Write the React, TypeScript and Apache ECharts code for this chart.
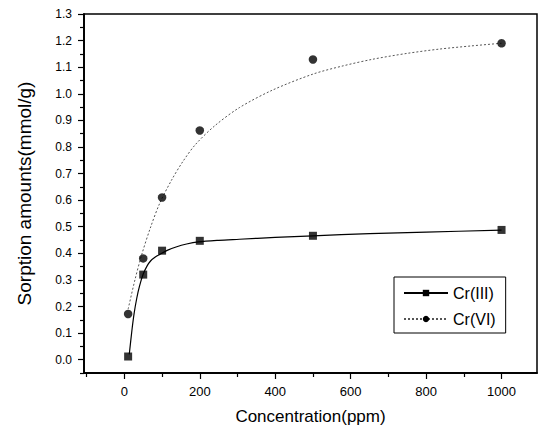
import React, { useEffect, useRef } from "react";
import * as echarts from "echarts";

const crIIIData: [number, number][] = [
  [10, 0.012], [50, 0.32], [100, 0.41], [200, 0.447], [500, 0.466], [1000, 0.488],
];
const crVIData: [number, number][] = [
  [10, 0.172], [50, 0.381], [100, 0.61], [200, 0.862], [500, 1.129], [1000, 1.19],
];
// fitted curves
const crIIIFit: [number, number][] = [
  [13, 0.02], [20, 0.11], [26, 0.175], [33, 0.232], [40, 0.276], [50, 0.322], [60, 0.352],
  [70, 0.372], [82, 0.386], [94, 0.396], [115, 0.412], [137, 0.424], [165, 0.435],
  [196, 0.443], [250, 0.449], [305, 0.453], [400, 0.46], [500, 0.466], [650, 0.474],
  [800, 0.48], [1000, 0.487],
];
const crVIFit: [number, number][] = [
  [10, 0.19], [28, 0.3], [46, 0.395], [70, 0.5], [94, 0.589], [125, 0.675], [155, 0.745],
  [189, 0.81], [240, 0.88], [305, 0.948], [393, 1.014], [500, 1.074], [580, 1.105],
  [659, 1.13], [750, 1.152], [835, 1.168], [920, 1.18], [1000, 1.19],
];
const xMajor = [0, 200, 400, 600, 800, 1000];
const xMinor = [-100, 100, 300, 500, 700, 900, 1100];
const yMajor = [0, 0.1, 0.2, 0.3, 0.4, 0.5, 0.6, 0.7, 0.8, 0.9, 1.0, 1.1, 1.2, 1.3];
const yMinor = [-0.05, 0.05, 0.15, 0.25, 0.35, 0.45, 0.55, 0.65, 0.75, 0.85, 0.95, 1.05, 1.15, 1.25];

const FONT = "'Liberation Sans', Arial, sans-serif";

export default function App() {
  const ref = useRef<HTMLDivElement>(null);
  useEffect(() => {
    if (!ref.current) return;
    const chart = echarts.init(ref.current, null, { renderer: "svg" });
    const xBase = {
      type: "value",
      min: -107,
      max: 1094,
      position: "bottom",
      splitLine: { show: false },
      axisLine: { show: true, onZero: false, lineStyle: { color: "#000", width: 1.5 } },
    };
    const yBase = {
      type: "value",
      min: -0.05,
      max: 1.3,
      position: "left",
      splitLine: { show: false },
      axisLine: { show: true, onZero: false, lineStyle: { color: "#000", width: 1.5 } },
    };
    chart.setOption({
      animation: false,
      backgroundColor: "#fff",
      grid: {
        left: 84, right: 6, top: 14, bottom: 58,
        show: true, borderColor: "#000", borderWidth: 1.5, backgroundColor: "transparent",
      },
      xAxis: [
        {
          ...xBase,
          name: "Concentration(ppm)",
          nameLocation: "middle",
          nameGap: 35,
          nameTextStyle: { fontFamily: FONT, fontSize: 17, color: "#000" },
          axisTick: { show: true, customValues: xMajor, length: 6, lineStyle: { color: "#000", width: 1.2 } },
          axisLabel: {
            customValues: xMajor, margin: 12, fontFamily: FONT, fontSize: 13, color: "#000",
            formatter: (v: number) => String(v),
          },
        },
        {
          ...xBase,
          axisTick: { show: true, customValues: xMinor, length: 4, lineStyle: { color: "#000", width: 1.2 } },
          axisLabel: { show: false },
        },
      ],
      yAxis: [
        {
          ...yBase,
          name: "Sorption amounts(mmol/g)",
          nameLocation: "middle",
          nameGap: 50,
          nameTextStyle: { fontFamily: FONT, fontSize: 19, color: "#000" },
          axisTick: { show: true, customValues: yMajor, length: 6, lineStyle: { color: "#000", width: 1.2 } },
          axisLabel: {
            customValues: yMajor, margin: 12, fontFamily: FONT, fontSize: 12, color: "#000",
            formatter: (v: number) => v.toFixed(1),
          },
        },
        {
          ...yBase,
          axisTick: { show: true, customValues: yMinor, length: 4, lineStyle: { color: "#000", width: 1.2 } },
          axisLabel: { show: false },
        },
      ],
      legend: {
        data: ["Cr(III)", "Cr(VI)"],
        orient: "vertical",
        left: 394,
        top: 277,
        padding: [8, 10, 6, 9],
        itemGap: 10,
        itemWidth: 44,
        itemHeight: 8,
        borderColor: "#000",
        borderWidth: 1,
        borderRadius: 0,
        backgroundColor: "#fff",
        textStyle: { fontFamily: FONT, fontSize: 16, color: "#000" },
      },
      series: [
        {
          name: "Cr(III)",
          type: "line",
          data: crIIIFit,
          smooth: 0.3,
          showSymbol: false,
          symbol: "rect",
          symbolSize: 8,
          itemStyle: { color: "#000" },
          lineStyle: { color: "#000", width: 1.2 },
          z: 2,
        },
        {
          name: "Cr(VI)",
          type: "line",
          data: crVIFit,
          smooth: 0.3,
          showSymbol: false,
          symbol: "circle",
          symbolSize: 8,
          itemStyle: { color: "#000" },
          lineStyle: { color: "#555", width: 1, type: [2, 2] },
          z: 2,
        },
        {
          name: "Cr(III) data",
          type: "scatter",
          data: crIIIData,
          symbol: "rect",
          symbolSize: 8,
          itemStyle: { color: "#000" },
          z: 3,
        },
        {
          name: "Cr(VI) data",
          type: "scatter",
          data: crVIData,
          symbol: "circle",
          symbolSize: 8.5,
          itemStyle: { color: "#000" },
          z: 3,
        },
      ],
    });
    return () => chart.dispose();
  }, []);
  return <div ref={ref} style={{ width: 543, height: 431, position: "absolute", left: 0, top: 0 }} />;
}
